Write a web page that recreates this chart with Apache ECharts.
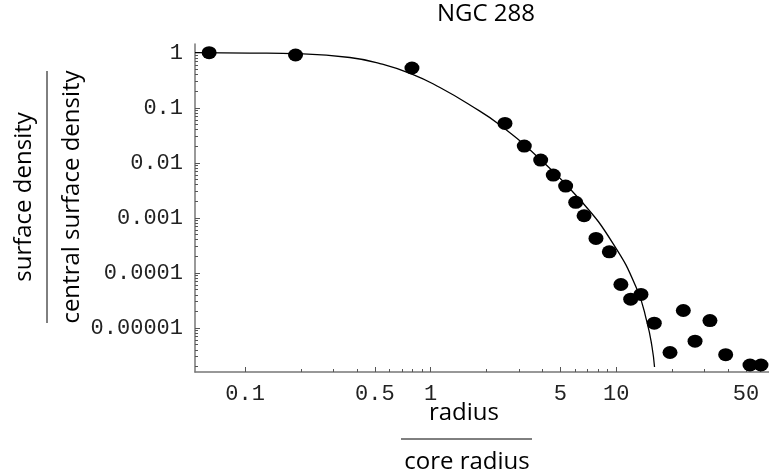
<!DOCTYPE html>
<html>
<head>
<meta charset="utf-8">
<script src="https://cdn.jsdelivr.net/npm/echarts@6/dist/echarts.min.js"></script>
<style>
  html, body { margin: 0; padding: 0; background: #fff; }
  #main { width: 769px; height: 475px; }
</style>
</head>
<body>
<div id="main"></div>
<script type="text/javascript">

    // measured points (radius / core radius, surface density / central surface density)
    var radius = [0.064, 0.187, 0.793, 2.515, 3.196, 3.917, 4.58, 5.34, 6.05, 6.71, 7.78, 9.18,
                  10.6, 11.97, 13.6, 16.04, 19.5, 23.0, 26.6, 32.0, 38.9, 52.6, 60.3];
    var density = [1.0, 0.908, 0.527, 0.052, 0.0201, 0.0112, 0.00597, 0.00377, 0.00191, 0.00109, 0.000422, 0.000241,
                   6.15e-5, 3.33e-5, 4.05e-5, 1.22e-5, 3.57e-6, 2.07e-5, 5.73e-6, 1.36e-5, 3.26e-6, 2.12e-6, 2.12e-6];

    // fitted profile
    var fitRadius = [0.0537, 0.1062, 0.1975, 0.367, 0.533, 0.793, 1.122, 1.628, 2.363, 3.88, 6.38, 9.62,
                     12.95, 14.66, 15.6, 16.09];
    var fitDensity = [1.0, 0.987, 0.955, 0.818, 0.636, 0.41, 0.233, 0.112, 0.0485, 0.01167, 0.00213, 0.00034,
                      5.0e-5, 1.26e-5, 4.5e-6, 1.95e-6];

    // tick labels
    var xTickValues = [0.1, 0.5, 1, 5, 10, 50];
    var xTickLabels = ['0.1', '0.5', '1', '5', '10', '50'];
    var yTickValues = [1, 0.1, 0.01, 0.001, 0.0001, 0.00001];
    var yTickLabels = ['1', '0.1', '0.01', '0.001', '0.0001', '0.00001'];

    var xMin = 0.0537, xMax = 66.6;
    var yMin = 1.58e-6, yMax = 1.44;

    // small ticks at 1..9 in every decade inside the range
    function logTicks(lo, hi, fromExp, toExp) {
        var out = [];
        for (var e = fromExp; e <= toExp; e++) {
            for (var m = 1; m <= 9; m++) {
                var v = m * Math.pow(10, e);
                if (v >= lo && v <= hi) out.push(v);
            }
        }
        return out;
    }
    var xAllTicks = logTicks(0.1, xMax, -1, 1);
    var yAllTicks = logTicks(yMin, yMax, -6, 0);

    function pickLabel(values, labels) {
        return function (v) {
            for (var i = 0; i < values.length; i++) {
                if (Math.abs(values[i] / v - 1) < 1e-6) return labels[i];
            }
            return '';
        };
    }

    var tickFont = { fontFamily: 'Liberation Mono', fontSize: 22, color: '#222' };
    var textFont = 'Open Sans';
    var tickColor = '#555';

    var chart = echarts.init(document.getElementById('main'));

    var option = {
        animation: false,
        backgroundColor: '#fff',
        title: {
            text: 'NGC 288',
            left: 481,
            top: -3,
            textAlign: 'center',
            textStyle: { fontFamily: textFont, fontSize: 24, fontWeight: 'normal', color: '#000' }
        },
        grid: { left: 195, right: 0, top: 44, bottom: 103, containLabel: false },
        xAxis: [
            {
                // labels + long ticks
                type: 'log', logBase: 10, min: xMin, max: xMax, position: 'bottom',
                axisLine: { show: true, onZero: false, lineStyle: { color: '#777', width: 1.5 } },
                axisTick: { show: true, inside: true, length: 5, customValues: xTickValues, lineStyle: { color: tickColor, width: 1 } },
                axisLabel: Object.assign({ customValues: xTickValues, margin: 11, formatter: pickLabel(xTickValues, xTickLabels) }, tickFont),
                splitLine: { show: false }
            },
            {
                // short ticks
                type: 'log', logBase: 10, min: xMin, max: xMax, position: 'bottom',
                axisLine: { show: false, onZero: false },
                axisTick: { show: true, inside: true, length: 3, customValues: xAllTicks, lineStyle: { color: tickColor, width: 1 } },
                axisLabel: { show: false },
                splitLine: { show: false }
            }
        ],
        yAxis: [
            {
                type: 'log', logBase: 10, min: yMin, max: yMax, position: 'left',
                axisLine: { show: true, onZero: false, lineStyle: { color: '#777', width: 1.5 } },
                axisTick: { show: true, inside: true, length: 5, customValues: yTickValues, lineStyle: { color: tickColor, width: 1 } },
                axisLabel: Object.assign({ customValues: yTickValues, margin: 12, formatter: pickLabel(yTickValues, yTickLabels) }, tickFont),
                splitLine: { show: false }
            },
            {
                type: 'log', logBase: 10, min: yMin, max: yMax, position: 'left',
                axisLine: { show: false, onZero: false },
                axisTick: { show: true, inside: true, length: 3, customValues: yAllTicks, lineStyle: { color: tickColor, width: 1 } },
                axisLabel: { show: false },
                splitLine: { show: false }
            }
        ],
        series: [
            {
                name: 'fit',
                type: 'line',
                xAxisIndex: 0, yAxisIndex: 0,
                data: fitRadius.map(function (r, i) { return [r, fitDensity[i]]; }),
                showSymbol: false,
                smooth: 0.5,
                lineStyle: { color: '#000', width: 1.3 },
                z: 2
            },
            {
                name: 'NGC 288',
                type: 'scatter',
                xAxisIndex: 0, yAxisIndex: 0,
                data: radius.map(function (r, i) { return [r, density[i]]; }),
                symbol: 'circle',
                symbolSize: [15, 13],
                itemStyle: { color: '#000', opacity: 1 },
                z: 3
            }
        ],
        graphic: [
            { type: 'text', x: 464, y: 413, style: { text: 'radius', fontFamily: textFont, fontSize: 24, fill: '#000', align: 'center', verticalAlign: 'middle' } },
            { type: 'line', shape: { x1: 401, y1: 439, x2: 532, y2: 439 }, style: { stroke: '#000', lineWidth: 1 } },
            { type: 'text', x: 467, y: 462, style: { text: 'core radius', fontFamily: textFont, fontSize: 24, fill: '#000', align: 'center', verticalAlign: 'middle' } },
            { type: 'text', x: 24, y: 197, rotation: Math.PI / 2, style: { text: 'surface density', fontFamily: textFont, fontSize: 24, fill: '#000', align: 'center', verticalAlign: 'middle' } },
            { type: 'line', shape: { x1: 47, y1: 71, x2: 47, y2: 323 }, style: { stroke: '#000', lineWidth: 1 } },
            { type: 'text', x: 72, y: 197, rotation: Math.PI / 2, style: { text: 'central surface density', fontFamily: textFont, fontSize: 24, fill: '#000', align: 'center', verticalAlign: 'middle' } }
        ]
    };

    chart.setOption(option);

</script>
</body>
</html>
